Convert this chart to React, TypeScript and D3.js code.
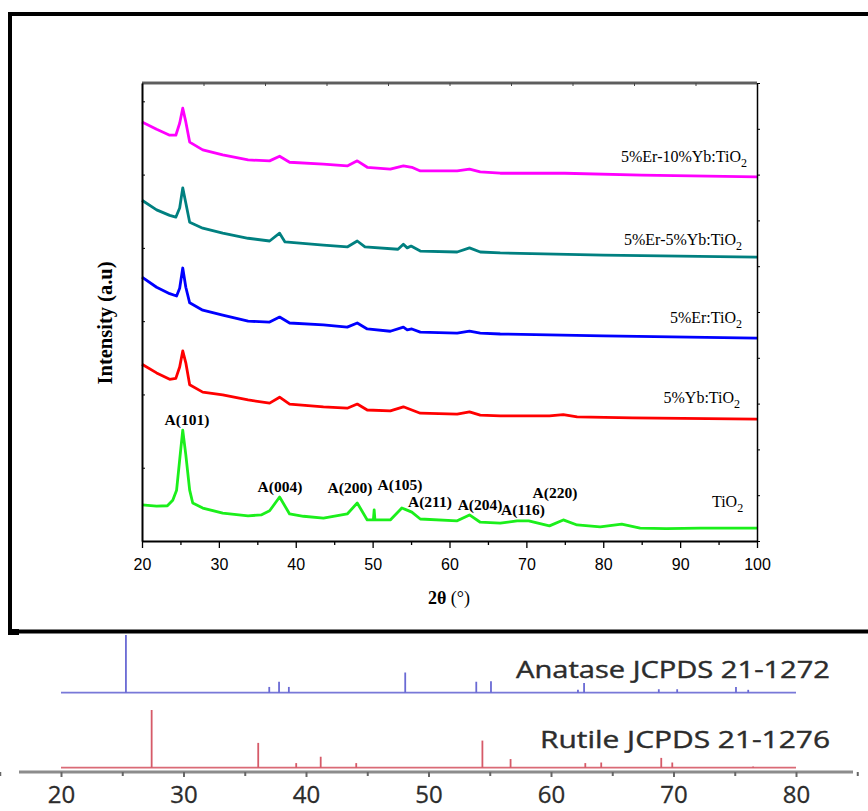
import React, { useEffect, useRef } from "react";
import * as d3 from "d3";

type Pt = [number, number];

// XRD patterns: [2θ (°), intensity (a.u.)]
const tio2: Pt[] = [
  [20, 79], [21.9, 76], [23.3, 77], [24.0, 89], [24.5, 111], [24.9, 177], [25.3, 242], [25.7, 188],
  [26.2, 111], [26.6, 83], [27.9, 72], [30.5, 61], [33.8, 55], [35.5, 57], [36.6, 66], [37.9, 96],
  [39.2, 59], [41, 54], [43.6, 50], [46.7, 59], [48.0, 83], [49.3, 46], [50.1, 46], [50.2, 68],
  [50.3, 46], [52.3, 46], [53.8, 72], [54.4, 68], [55.1, 63], [56.2, 48], [61, 44], [62.6, 57],
  [64, 41], [66.6, 39], [68.8, 44], [70.3, 44], [73, 33], [74.8, 46], [76.6, 35], [79.6, 31],
  [82.4, 37], [84.8, 28], [88.2, 27], [92.6, 28], [100, 28],
];
const ybTio2: Pt[] = [
  [20, 386], [21.9, 367], [23.6, 353], [24.4, 355], [24.9, 380], [25.3, 415], [25.7, 389], [26.2, 341],
  [27.9, 325], [30.5, 319], [33.8, 308], [36.6, 301], [37.9, 314], [39.2, 299], [43.6, 293], [46.7, 290],
  [48.0, 299], [49.3, 286], [52.3, 284], [54.0, 293], [55.1, 286], [56.2, 279], [61, 277], [62.6, 282],
  [64, 275], [66.6, 273], [73, 273], [74.8, 276], [76.6, 271], [83.8, 269], [100, 266],
];
const erTio2: Pt[] = [
  [20, 576], [21.9, 554], [23.6, 540], [24.5, 535], [24.9, 552], [25.3, 596], [25.7, 554], [26.2, 520],
  [27.9, 504], [30.5, 493], [33.8, 480], [36.6, 478], [37.9, 489], [39.2, 476], [43.6, 472], [46.7, 467],
  [48.0, 476], [49.3, 463], [52.3, 458], [54.0, 467], [54.5, 461], [55.1, 463], [56.2, 456], [61, 454],
  [62.6, 458], [64, 454], [66.6, 452], [80, 448], [100, 443],
];
const erYb5Tio2: Pt[] = [
  [20, 744], [21.9, 723], [23.6, 711], [24.4, 707], [24.9, 727], [25.3, 771], [25.7, 738], [26.2, 696],
  [27.9, 683], [30.5, 672], [33.8, 661], [36.6, 655], [37.9, 672], [38.6, 653], [43.6, 646], [46.7, 642],
  [48.0, 655], [49.0, 642], [53.3, 637], [54.0, 648], [54.5, 640], [55.0, 644], [56.2, 633], [61, 631],
  [62.6, 640], [64, 631], [66.6, 629], [80, 624], [100, 620],
];
const erYb10Tio2: Pt[] = [
  [20, 915], [21.9, 899], [23.6, 886], [24.4, 886], [24.9, 912], [25.3, 945], [25.7, 915], [26.2, 871],
  [27.9, 854], [30.5, 843], [33.8, 832], [36.6, 830], [37.9, 840], [39.2, 827], [43.6, 823], [46.7, 819],
  [48.0, 830], [49.3, 816], [52.3, 812], [54.0, 819], [55.1, 816], [56.2, 808], [61, 808], [62.6, 812],
  [64, 806], [66.6, 803], [75, 803], [85, 799], [100, 795],
];

const samples = [tio2, ybTio2, erTio2, erYb5Tio2, erYb10Tio2];
const sampleNames = ["TiO", "5%Yb:TiO", "5%Er:TiO", "5%Er-5%Yb:TiO", "5%Er-10%Yb:TiO"];
const sampleColors = ["#1bef1b", "#ff0000", "#0000ff", "#008080", "#ff00ff"];
// right end (2θ) and baseline (intensity) of each name
const sampleLabelAt: Pt[] = [[98.2, 74], [97.8, 301], [98.05, 476], [98.05, 646], [98.7, 827]];

const peakNames = ["A(101)", "A(004)", "A(200)", "A(105)", "A(211)", "A(204)", "A(116)", "A(220)"];
const peakLabelAt: Pt[] = [
  [25.85, 253], [37.95, 107], [47.05, 105], [53.56, 111], [57.46, 74], [63.97, 68], [69.56, 57], [73.72, 94],
];

const xTicks = [20, 30, 40, 50, 60, 70, 80, 90, 100];
const xMinorTicks = [25, 35, 45, 55, 65, 75, 85, 95];
const topTicks = [20, 28, 36, 44, 52, 60, 68, 76, 84, 92, 100];
const leftTicks = [0, 160, 320, 480, 640, 800, 960];
const rightTicks = [0, 100, 200, 300, 400, 500, 600, 700, 800, 900, 1000];

// reference cards (relative intensity)
const anatasePos = [25.3, 37.0, 37.8, 38.6, 48.1, 53.9, 55.1, 62.2, 62.7, 68.8, 70.3, 75.1, 76.1];
const anataseInt = [100, 10, 19, 10, 35, 19, 20, 5, 17, 6, 6, 10, 5];
const rutilePos = [27.4, 36.1, 39.2, 41.2, 44.1, 54.4, 56.7, 62.8, 64.1, 69.0, 69.9, 76.5];
const rutileInt = [100, 43, 8, 19, 8, 47, 15, 8, 9, 17, 9, 2];
const refTicks = [20, 30, 40, 50, 60, 70, 80];
const refMinorTicks = [15, 25, 35, 45, 55, 65, 75, 85];

const serif = "'Liberation Serif', 'Times New Roman', serif";
const sans = "'Liberation Sans', Arial, sans-serif";
const refFont = "'Open Sans', sans-serif";

export default function App() {
  const ref = useRef<SVGSVGElement>(null);

  useEffect(() => {
    const svg = d3.select(ref.current);
    svg.selectAll("*").remove();

    // outer frame
    svg.append("rect")
      .attr("x", 10).attr("y", 14).attr("width", 900).attr("height", 617.5)
      .attr("fill", "none").attr("stroke", "#000").attr("stroke-width", 4);
    svg.append("rect").attr("x", 8).attr("y", 629).attr("width", 11).attr("height", 6).attr("fill", "#000");

    const x = d3.scaleLinear().domain([20, 100]).range([142, 757]);
    const y = d3.scaleLinear().domain([0, 1000]).range([541, 83]);

    // patterns
    const line = d3.line<Pt>().x(d => x(d[0])).y(d => y(d[1]));
    svg.selectAll("path.trace")
      .data(samples)
      .enter()
      .append("path")
      .attr("class", "trace")
      .attr("d", d => line(d))
      .attr("fill", "none")
      .attr("stroke", (d, i) => sampleColors[i])
      .attr("stroke-width", 2.8)
      .attr("stroke-linejoin", "round");

    // box
    svg.append("line").attr("x1", 142).attr("x2", 757).attr("y1", 83).attr("y2", 83)
      .attr("stroke", "#999").attr("stroke-width", 3.5);
    svg.append("line").attr("x1", 142).attr("x2", 757).attr("y1", 83).attr("y2", 83)
      .attr("stroke", "#222").attr("stroke-width", 1);

    const top = svg.append("g").attr("transform", "translate(0,83)")
      .call(d3.axisTop(x).tickValues(topTicks).tickSize(-3).tickFormat(() => ""));
    top.select(".domain").remove();
    top.selectAll("line").attr("stroke", "#444");

    const left = svg.append("g").attr("transform", "translate(142,0)")
      .call(d3.axisLeft(y).tickValues(leftTicks).tickSize(-3).tickSizeOuter(0).tickFormat(() => ""));
    left.select(".domain").attr("stroke-width", 2);

    const right = svg.append("g").attr("transform", "translate(757,0)")
      .call(d3.axisRight(y).tickValues(rightTicks).tickSize(3).tickSizeOuter(0).tickFormat(() => ""));
    right.select(".domain").attr("stroke-width", 1.5);

    const minor = svg.append("g").attr("transform", "translate(0,541)")
      .call(d3.axisBottom(x).tickValues(xMinorTicks).tickSize(4).tickFormat(() => ""));
    minor.select(".domain").remove();
    minor.selectAll("line").attr("stroke-width", 1.3);

    const bottom = svg.append("g").attr("transform", "translate(0,541)")
      .call(d3.axisBottom(x).tickValues(xTicks).tickSize(7).tickSizeOuter(0).tickPadding(10.5));
    bottom.select(".domain").attr("stroke-width", 2);
    bottom.selectAll("line").attr("stroke-width", 1.3);
    bottom.selectAll("text").attr("font-family", sans).attr("font-size", 16).attr("fill", "#000");

    // axis titles
    const xt = svg.append("text").attr("x", 449).attr("y", 604).attr("text-anchor", "middle")
      .attr("font-family", serif).attr("font-size", 18);
    xt.append("tspan").attr("font-weight", "bold").text("2θ");
    xt.append("tspan").text(" (°)");

    svg.append("text")
      .attr("transform", "translate(112,323) rotate(-90)")
      .attr("text-anchor", "middle")
      .attr("font-family", serif).attr("font-size", 20.5).attr("font-weight", "bold")
      .text("Intensity (a.u)");

    // sample names
    sampleNames.forEach((name, i) => {
      const t = svg.append("text")
        .attr("x", x(sampleLabelAt[i][0])).attr("y", y(sampleLabelAt[i][1]))
        .attr("text-anchor", "end")
        .attr("font-family", serif).attr("font-size", 16);
      t.append("tspan").text(name);
      t.append("tspan").attr("dy", 5).attr("font-size", 12).text("2");
    });

    // peak indexing
    svg.selectAll("text.peak")
      .data(peakNames)
      .enter()
      .append("text")
      .attr("class", "peak")
      .attr("x", (d, i) => x(peakLabelAt[i][0]))
      .attr("y", (d, i) => y(peakLabelAt[i][1]))
      .attr("text-anchor", "middle")
      .attr("font-family", serif).attr("font-size", 15.5).attr("font-weight", "bold")
      .text(d => d);

    // ---- JCPDS reference panel ----
    const xr = d3.scaleLinear().domain([20, 80]).range([61, 796]);
    const yAna = d3.scaleLinear().domain([0, 100]).range([692.7, 635]);
    const yRut = d3.scaleLinear().domain([0, 100]).range([767.7, 710]);

    const card = (pos: number[], ints: number[], ys: d3.ScaleLinear<number, number>, color: string) => {
      svg.append("line")
        .attr("x1", xr(20)).attr("x2", xr(80)).attr("y1", ys(0)).attr("y2", ys(0))
        .attr("stroke", color).attr("stroke-width", 1.8).attr("opacity", 0.9);
      svg.append("g").selectAll("line")
        .data(pos)
        .enter()
        .append("line")
        .attr("x1", d => xr(d)).attr("x2", d => xr(d))
        .attr("y1", ys(0)).attr("y2", (d, i) => ys(ints[i]))
        .attr("stroke", color).attr("stroke-width", 1.8);
    };
    card(anatasePos, anataseInt, yAna, "#6a6ad4");
    card(rutilePos, rutileInt, yRut, "#d65a68");

    svg.append("text").attr("x", 830).attr("y", 678).attr("text-anchor", "end")
      .attr("font-family", refFont).attr("font-size", 24).attr("fill", "#2c2c2c")
      .attr("stroke", "#2c2c2c").attr("stroke-width", 0.4)
      .attr("textLength", 314).attr("lengthAdjust", "spacingAndGlyphs")
      .text("Anatase JCPDS 21-1272");
    svg.append("text").attr("x", 830).attr("y", 748).attr("text-anchor", "end")
      .attr("font-family", refFont).attr("font-size", 24).attr("fill", "#2c2c2c")
      .attr("stroke", "#2c2c2c").attr("stroke-width", 0.4)
      .attr("textLength", 290).attr("lengthAdjust", "spacingAndGlyphs")
      .text("Rutile JCPDS 21-1276");

    svg.append("line").attr("x1", 19).attr("x2", 853).attr("y1", 772).attr("y2", 772)
      .attr("stroke", "#8c8c8c").attr("stroke-width", 3);
    const rMinor = svg.append("g").attr("transform", "translate(0,772)")
      .call(d3.axisBottom(xr).tickValues(refMinorTicks).tickSize(4).tickFormat(() => ""));
    rMinor.select(".domain").remove();
    rMinor.selectAll("line").attr("stroke", "#666").attr("stroke-width", 2);
    const rAxis = svg.append("g").attr("transform", "translate(0,772)")
      .call(d3.axisBottom(xr).tickValues(refTicks).tickSize(5).tickPadding(9));
    rAxis.select(".domain").remove();
    rAxis.selectAll("line").attr("stroke", "#666").attr("stroke-width", 2);
    rAxis.selectAll("text").attr("font-family", refFont).attr("font-size", 24)
      .attr("fill", "#2c2c2c").attr("stroke", "#2c2c2c").attr("stroke-width", 0.3);
  }, []);

  return (
    <svg
      ref={ref}
      width={868}
      height={811}
      style={{ position: "absolute", left: 0, top: 0, background: "#fff" }}
    />
  );
}
